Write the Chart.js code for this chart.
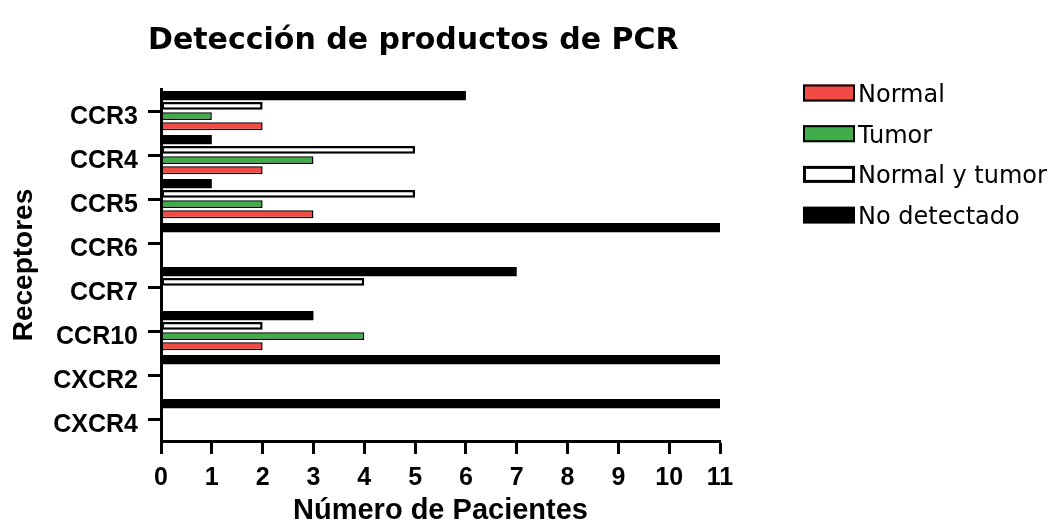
<!DOCTYPE html>
<html>
<head>
<meta charset="utf-8">
<script src="https://cdn.jsdelivr.net/npm/chart.js@4.4.1/dist/chart.umd.min.js"></script>
<style>
  html, body { margin: 0; padding: 0; background: #fff; }
  #wrap { position: relative; width: 1063px; height: 522px; }
</style>
</head>
<body>
<div id="wrap"><canvas id="c" width="1063" height="522"></canvas></div>
<script>
// ---- Data ----
const chartTitle = 'Detección de productos de PCR';
const categories = ['CCR3', 'CCR4', 'CCR5', 'CCR6', 'CCR7', 'CCR10', 'CXCR2', 'CXCR4'];
const seriesNames = ['Normal', 'Tumor', 'Normal y tumor', 'No detectado'];
const normal       = [2, 2, 3, 0, 0, 2, 0, 0];
const tumor        = [1, 3, 2, 0, 0, 4, 0, 0];
const normalYTumor = [2, 5, 5, 0, 4, 2, 0, 0];
const noDetectado  = [6, 1, 1, 11, 7, 3, 11, 11];
const xTicks = [0, 1, 2, 3, 4, 5, 6, 7, 8, 9, 10, 11];
const xTitle = 'Número de Pacientes';
const yTitle = 'Receptores';

// ---- Styles ----
const fills   = ['#f24a44', '#3fad49', '#ffffff', '#000000'];
const borders = [1.5, 1.5, 2.5, 0];
const barPct  = [0.78, 0.74, 0.74, 0.92];

// datasets drawn top-to-bottom inside each group: No detectado, Normal y tumor, Tumor, Normal
const seriesData = [normal, tumor, normalYTumor, noDetectado];
const drawOrder = [3, 2, 1, 0];
const datasets = drawOrder.map(i => ({
  label: seriesNames[i],
  data: seriesData[i],
  backgroundColor: fills[i],
  borderColor: '#000000',
  borderWidth: borders[i],
  borderSkipped: false,
  barPercentage: barPct[i],
  categoryPercentage: 0.93
}));

const legendPlugin = {
  id: 'customTitleLegend',
  afterDraw(chart) {
    const ctx = chart.ctx;
    ctx.save();
    // title
    ctx.fillStyle = '#000';
    ctx.font = 'bold 30px "DejaVu Sans"';
    ctx.textAlign = 'left';
    ctx.textBaseline = 'alphabetic';
    ctx.fillText(chartTitle, 148, 49);
    // legend (Normal, Tumor, Normal y tumor, No detectado)
    ctx.font = '24px "DejaVu Sans"';
    for (let k = 0; k < seriesNames.length; k++) {
      const yc = 93 + k * 40.7;
      ctx.fillStyle = fills[k];
      ctx.fillRect(803, yc - 8.5, 52, 17);
      if (borders[k] > 0) {
        ctx.lineWidth = k === 2 ? 3 : 2;
        ctx.strokeStyle = '#000';
        const o = ctx.lineWidth / 2;
        ctx.strokeRect(803 + o, yc - 8.5 + o, 52 - 2 * o, 17 - 2 * o);
      }
      ctx.fillStyle = '#000';
      ctx.fillText(seriesNames[k], 858, yc + 9);
    }
    ctx.restore();
  }
};

new Chart(document.getElementById('c'), {
  type: 'bar',
  data: { labels: categories, datasets },
  plugins: [legendPlugin],
  options: {
    indexAxis: 'y',
    responsive: false,
    animation: false,
    layout: { padding: { top: 89, right: 343, bottom: 0, left: 0 } },
    plugins: {
      legend: { display: false },
      title: { display: false },
      tooltip: { enabled: false }
    },
    scales: {
      x: {
        type: 'linear',
        min: xTicks[0],
        max: xTicks[xTicks.length - 1],
        afterBuildTicks(scale) { scale.ticks = xTicks.map(v => ({ value: v })); },
        afterFit(scale) { scale.height = 81; },
        ticks: {
          color: '#000',
          font: { family: '"Liberation Sans"', size: 25, weight: 'bold' },
          padding: 9
        },
        grid: {
          display: true,
          drawOnChartArea: false,
          drawTicks: true,
          tickLength: 13,
          tickWidth: 3,
          color: '#000'
        },
        border: { display: true, color: '#000', width: 3 },
        title: {
          display: true,
          text: xTitle,
          color: '#000',
          font: { family: '"Liberation Sans"', size: 29, weight: 'bold', lineHeight: 1.0 },
          padding: { top: 0, bottom: -3 }
        }
      },
      y: {
        type: 'category',
        afterFit(scale) { scale.width = 161; },
        ticks: {
          color: '#000',
          font: { family: '"Liberation Sans"', size: 25, weight: 'bold' },
          padding: 10,
          labelOffset: 6
        },
        grid: {
          display: true,
          offset: false,
          drawOnChartArea: false,
          drawTicks: true,
          tickLength: 13,
          tickWidth: 3,
          color: '#000'
        },
        border: { display: true, color: '#000', width: 3 },
        title: {
          display: true,
          text: yTitle,
          color: '#000',
          font: { family: '"Liberation Sans"', size: 28, weight: 'bold' },
          padding: { top: 7, bottom: 0 }
        }
      }
    }
  }
});
</script>
</body>
</html>
